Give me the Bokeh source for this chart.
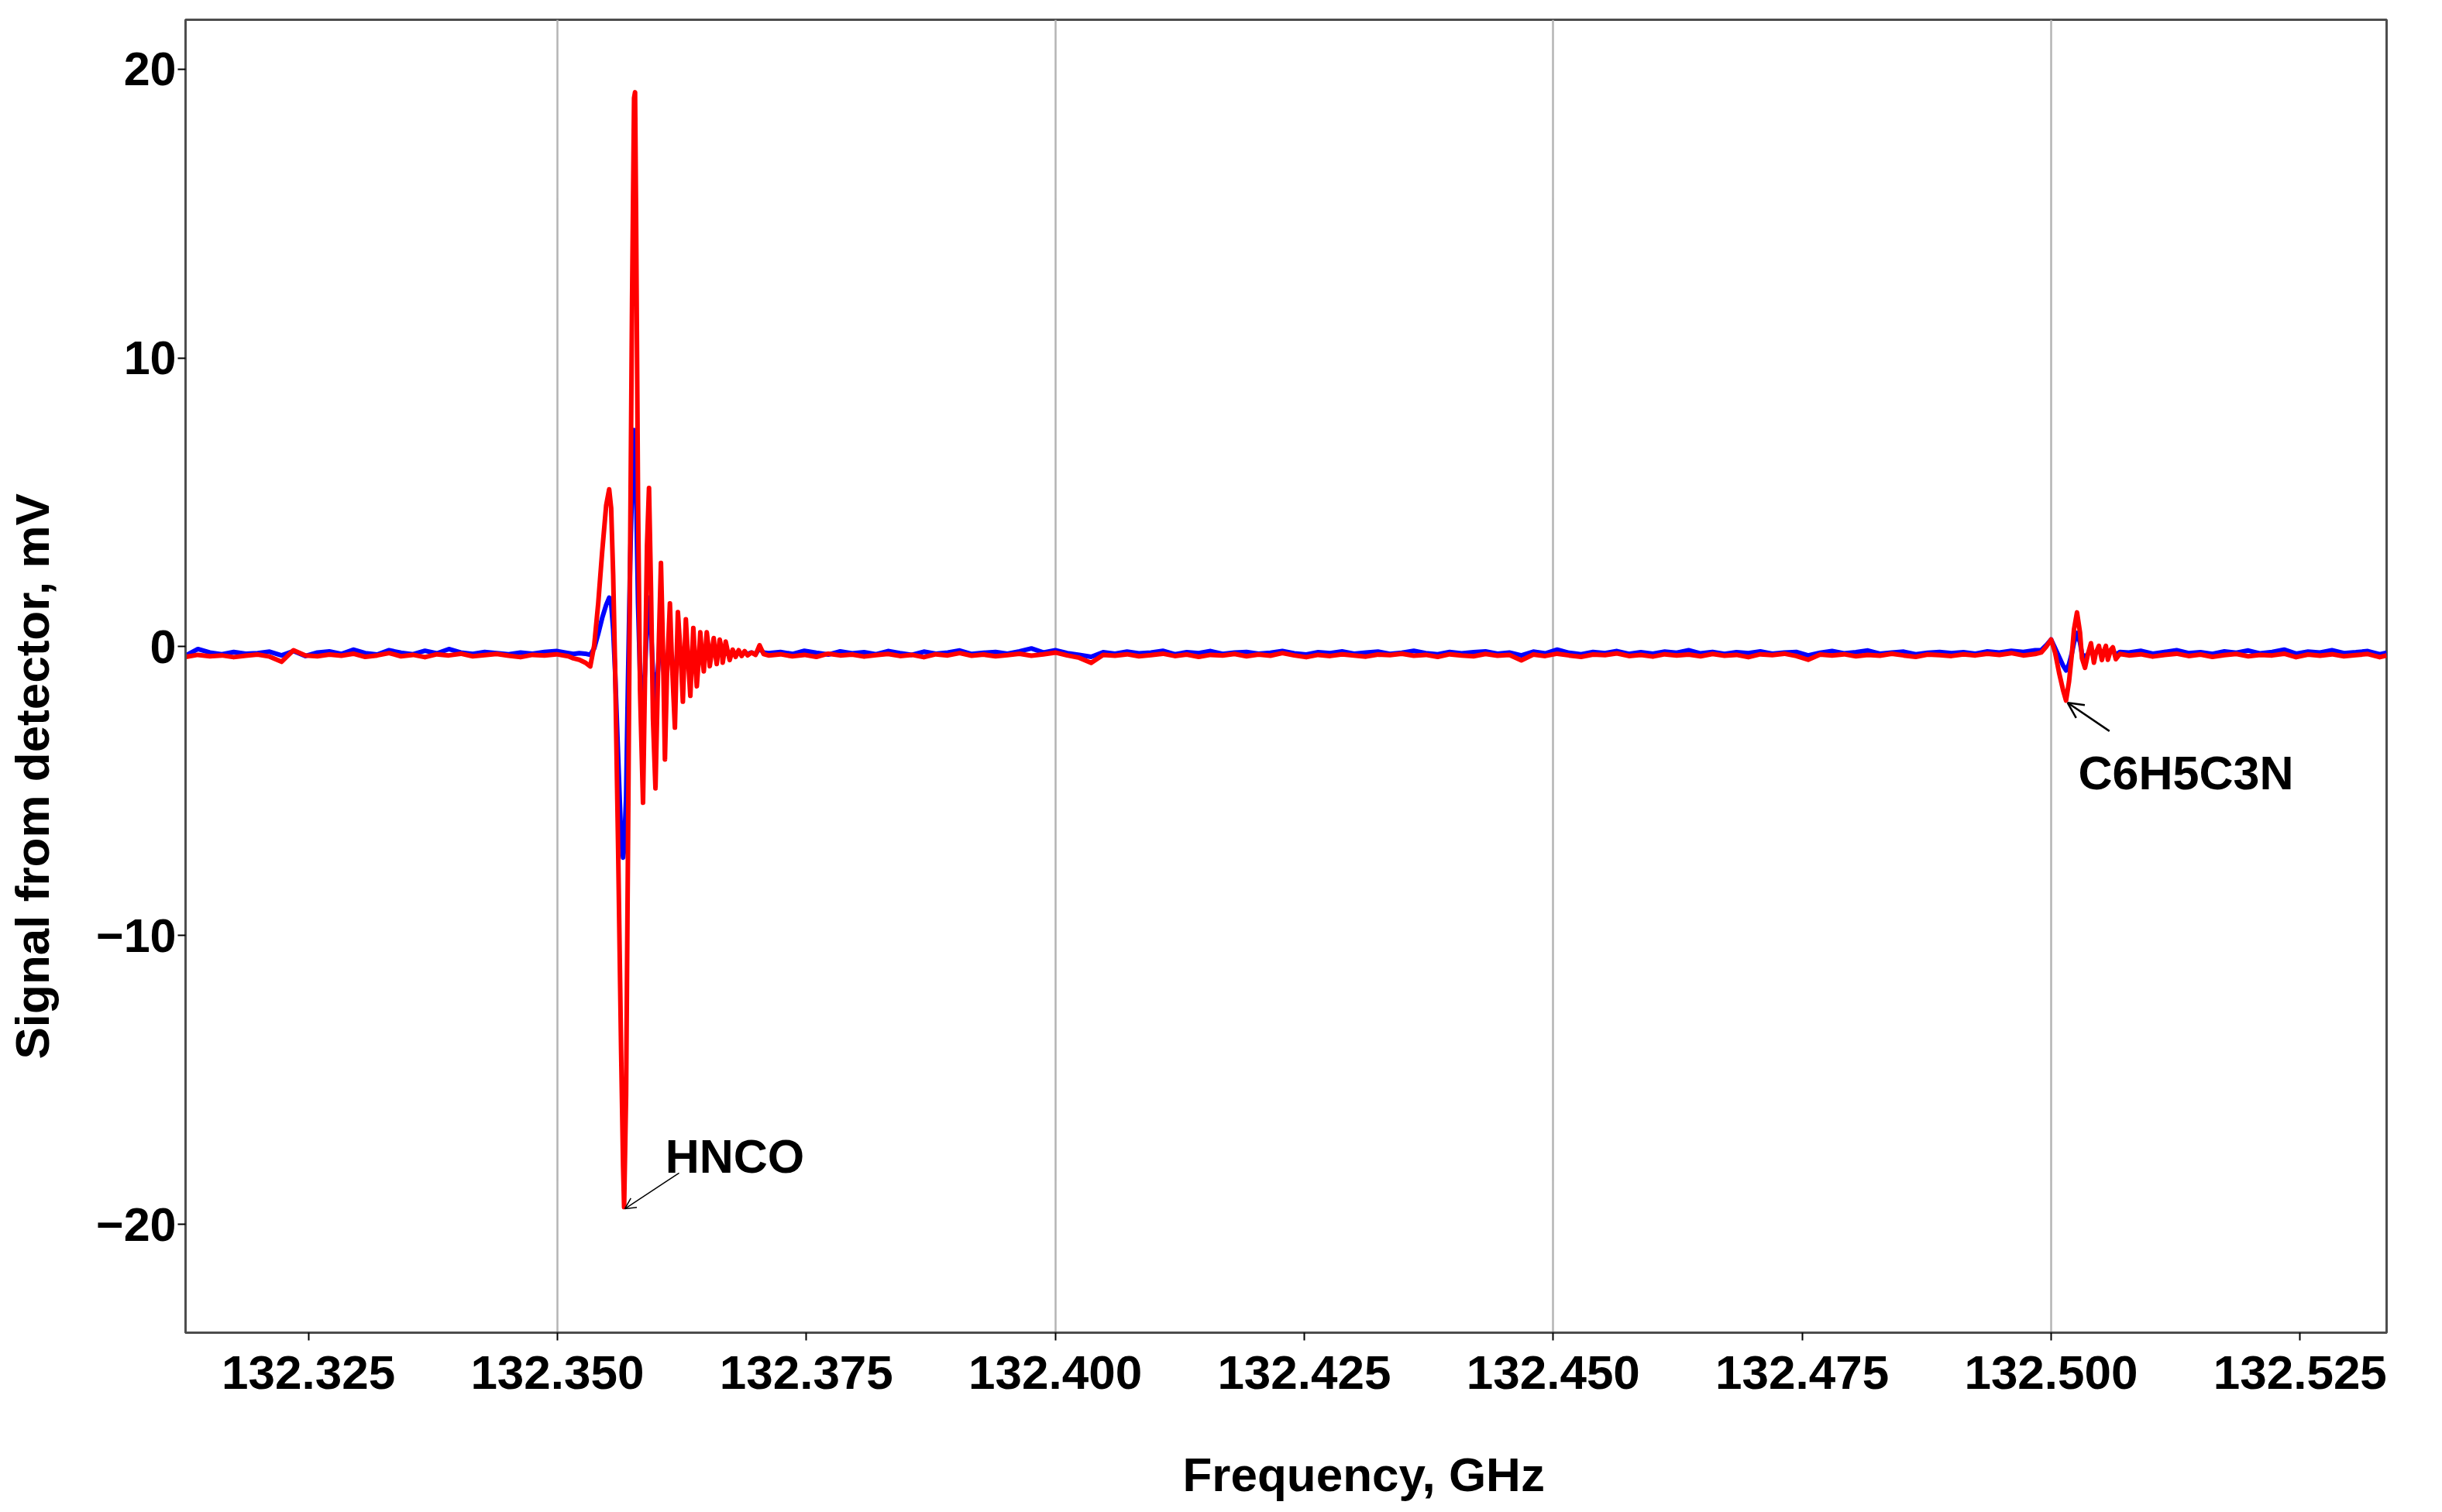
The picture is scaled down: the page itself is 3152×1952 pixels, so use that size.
from bokeh.plotting import figure
from bokeh.models import (FixedTicker, CustomJSTickFormatter, Label, Arrow,
                          OpenHead, Range1d, Title)
from bokeh.embed import file_html
from bokeh.resources import INLINE

FONT = "Liberation Sans"

# ---------------- axes ----------------
x_ticks = [132.325, 132.350, 132.375, 132.400, 132.425, 132.450, 132.475, 132.500, 132.525]
x_grid = [132.350, 132.400, 132.450, 132.500]
y_ticks = [-20, -10, 0, 10, 20]
x_title = "Frequency, GHz"
y_title = "Signal from detector, mV"

# ---------------- data: baseline before HNCO ----------------
freq_base1 = [132.3127, 132.3139, 132.3151, 132.3163, 132.3175, 132.3187, 132.3199, 132.3211,
              132.3223, 132.3235, 132.3247, 132.3259, 132.3271, 132.3283, 132.3295, 132.3307,
              132.3319, 132.3331, 132.3343, 132.3355, 132.3367, 132.3379, 132.3391, 132.3403,
              132.3415, 132.3427, 132.3439, 132.3451, 132.3463, 132.3475, 132.3487, 132.3499,
              132.3511]
red_base1 = [-0.35, -0.28, -0.33, -0.30, -0.36, -0.31, -0.27, -0.34, -0.52, -0.12, -0.30,
             -0.33, -0.27, -0.31, -0.24, -0.35, -0.30, -0.22, -0.33, -0.28, -0.36, -0.26,
             -0.30, -0.24, -0.33, -0.29, -0.25, -0.31, -0.36, -0.28, -0.30, -0.26, -0.33]
blue_base1 = [-0.30, -0.08, -0.20, -0.26, -0.18, -0.24, -0.22, -0.17, -0.30, -0.15, -0.32,
              -0.20, -0.16, -0.25, -0.10, -0.22, -0.27, -0.12, -0.21, -0.26, -0.14, -0.23,
              -0.08, -0.20, -0.25, -0.18, -0.22, -0.26, -0.20, -0.24, -0.18, -0.15, -0.22]

# ---------------- data: HNCO line ----------------
freq_hnco = [132.3516, 132.3522, 132.3528, 132.3533, 132.3537, 132.3541, 132.3545, 132.3549,
             132.3552, 132.3554, 132.3556, 132.3558, 132.3561, 132.3564, 132.3566, 132.3567,
             132.3569, 132.3571, 132.3573, 132.3575, 132.3577, 132.3578, 132.3579, 132.3581,
             132.3583, 132.3586, 132.3588, 132.3590, 132.3592, 132.3594, 132.3596, 132.35985,
             132.3601, 132.3604, 132.3606, 132.3608, 132.3610, 132.3613, 132.3615, 132.3618,
             132.36195, 132.3621, 132.3624, 132.3626, 132.36275, 132.3629, 132.3631, 132.36335,
             132.3635, 132.36365, 132.3638, 132.3640, 132.3642, 132.36435, 132.3645, 132.3647,
             132.36485, 132.3650, 132.3652, 132.3653, 132.3655, 132.3657, 132.3658, 132.3660,
             132.36615, 132.3663, 132.3665, 132.3666, 132.3668, 132.3669, 132.3671, 132.3673,
             132.3676, 132.3679, 132.3682, 132.3685, 132.3688, 132.3691, 132.3695, 132.3699,
             132.3703, 132.3707]
red_hnco = [-0.40, -0.45, -0.55, -0.68, 0.05, 1.5, 3.3, 4.9,
            5.45, 4.8, 2.5, -0.8, -7.0, -14.0, -18.0, -19.4,
            -15.5, -6.5, 3.0, 12.0, 19.0, 19.2, 15.0, 5.0,
            -1.5, -5.4, -1.0, 3.5, 5.5, 2.0, -2.5, -4.9,
            -1.0, 2.9, 0.0, -3.9, -1.0, 1.5, -0.5, -2.8,
            -0.8, 1.2, -0.4, -1.9, -0.4, 0.95, -0.3, -1.7,
            -0.5, 0.65, -0.3, -1.37, -0.4, 0.5, -0.2, -0.85,
            -0.2, 0.5, -0.1, -0.67, -0.2, 0.3, -0.1, -0.6,
            -0.15, 0.25, -0.1, -0.55, -0.1, 0.18, -0.15, -0.46,
            -0.10, -0.35, -0.12, -0.32, -0.15, -0.30, -0.20, -0.28,
            0.05, -0.25]
blue_hnco = [-0.25, -0.22, -0.24, -0.28, -0.05, 0.45, 1.0, 1.45,
             1.7, 1.5, 0.6, -0.9, -3.8, -6.6, -7.3, -7.0,
             -5.2, -1.0, 2.8, 5.6, 7.5, 7.2, 5.5, 1.5,
             -1.0, -2.1, -0.8, 0.8, 1.7, 0.6, -0.9, -1.9,
             -0.8, 0.6, -0.3, -1.7, -0.7, 0.2, -0.5, -1.2,
             -0.6, 0.1, -0.4, -0.9, -0.4, 0.0, -0.4, -0.8,
             -0.4, -0.05, -0.3, -0.65, -0.3, -0.05, -0.3, -0.5,
             -0.25, -0.10, -0.25, -0.40, -0.20, -0.10, -0.20, -0.35,
             -0.20, -0.15, -0.25, -0.30, -0.20, -0.15, -0.25, -0.30,
             -0.15, -0.25, -0.20, -0.28, -0.20, -0.25, -0.20, -0.26,
             -0.05, -0.20]

# ---------------- data: baseline between the lines ----------------
freq_base2 = [132.3712, 132.3724, 132.3736, 132.3748, 132.3760, 132.3772, 132.3784, 132.3796, 132.3808, 132.3820,
              132.3832, 132.3844, 132.3856, 132.3868, 132.3880, 132.3892, 132.3904, 132.3916, 132.3928, 132.3940,
              132.3952, 132.3964, 132.3976, 132.3988, 132.4000, 132.4012, 132.4024, 132.4036, 132.4048, 132.4060,
              132.4072, 132.4084, 132.4096, 132.4108, 132.4120, 132.4132, 132.4144, 132.4156, 132.4168, 132.4180,
              132.4192, 132.4204, 132.4216, 132.4228, 132.4240, 132.4252, 132.4264, 132.4276, 132.4288, 132.4300,
              132.4312, 132.4324, 132.4336, 132.4348, 132.4360, 132.4372, 132.4384, 132.4396, 132.4408, 132.4420,
              132.4432, 132.4444, 132.4456, 132.4468, 132.4480, 132.4492, 132.4504, 132.4516, 132.4528, 132.4540,
              132.4552, 132.4564, 132.4576, 132.4588, 132.4600, 132.4612, 132.4624, 132.4636, 132.4648, 132.4660,
              132.4672, 132.4684, 132.4696, 132.4708, 132.4720, 132.4732, 132.4744, 132.4756, 132.4768, 132.4780,
              132.4792, 132.4804, 132.4816, 132.4828, 132.4840, 132.4852, 132.4864, 132.4876, 132.4888, 132.4900,
              132.4912, 132.4924, 132.4936, 132.4948, 132.4960, 132.4972, 132.4984]
red_base2 = [-0.30, -0.26, -0.33, -0.28, -0.35, -0.24, -0.30, -0.27, -0.34, -0.29,
             -0.25, -0.32, -0.28, -0.36, -0.26, -0.30, -0.22, -0.31, -0.27, -0.33,
             -0.29, -0.24, -0.31, -0.26, -0.20, -0.30, -0.38, -0.56, -0.28, -0.31,
             -0.26, -0.33, -0.29, -0.24, -0.32, -0.27, -0.35, -0.28, -0.30, -0.25,
             -0.33, -0.27, -0.31, -0.22, -0.30, -0.36, -0.28, -0.32, -0.26, -0.30,
             -0.34, -0.27, -0.29, -0.24, -0.31, -0.28, -0.35, -0.26, -0.30, -0.33,
             -0.25, -0.31, -0.28, -0.47, -0.27, -0.32, -0.24, -0.30, -0.35, -0.27,
             -0.29, -0.23, -0.32, -0.28, -0.34, -0.26, -0.30, -0.27, -0.33, -0.25,
             -0.31, -0.28, -0.36, -0.26, -0.29, -0.24, -0.32, -0.45, -0.27, -0.30,
             -0.26, -0.33, -0.28, -0.31, -0.24, -0.30, -0.35, -0.27, -0.29, -0.32,
             -0.26, -0.30, -0.24, -0.28, -0.22, -0.30, -0.25]
blue_base2 = [-0.22, -0.18, -0.25, -0.14, -0.21, -0.27, -0.16, -0.23, -0.19, -0.26,
              -0.15, -0.22, -0.28, -0.17, -0.24, -0.20, -0.13, -0.25, -0.21, -0.18,
              -0.24, -0.16, -0.06, -0.20, -0.12, -0.22, -0.28, -0.35, -0.19, -0.24,
              -0.17, -0.23, -0.20, -0.14, -0.26, -0.19, -0.22, -0.15, -0.25, -0.20,
              -0.18, -0.24, -0.21, -0.15, -0.23, -0.27, -0.19, -0.22, -0.16, -0.24,
              -0.20, -0.17, -0.25, -0.21, -0.14, -0.22, -0.26, -0.18, -0.23, -0.19,
              -0.16, -0.24, -0.20, -0.30, -0.17, -0.23, -0.10, -0.21, -0.26, -0.18,
              -0.22, -0.15, -0.25, -0.19, -0.24, -0.17, -0.21, -0.12, -0.23, -0.18,
              -0.25, -0.19, -0.22, -0.16, -0.24, -0.20, -0.18, -0.30, -0.21, -0.15,
              -0.23, -0.19, -0.13, -0.24, -0.20, -0.17, -0.26, -0.21, -0.18, -0.22,
              -0.19, -0.24, -0.16, -0.20, -0.14, -0.18, -0.12]

# ---------------- data: C6H5C3N line ----------------
freq_c6 = [132.4990, 132.4995, 132.5000, 132.5004, 132.5008, 132.5012, 132.5015, 132.5018,
           132.5021, 132.5023, 132.5026, 132.5029, 132.5031, 132.5034, 132.5037, 132.5040,
           132.5043, 132.5045, 132.5048, 132.5051, 132.5053, 132.5055, 132.5057, 132.5060,
           132.5062, 132.5065, 132.5069]
red_c6 = [-0.20, 0.00, 0.25, -0.20, -0.90, -1.50, -1.86, -1.20,
          -0.20, 0.60, 1.19, 0.50, -0.40, -0.73, -0.25, 0.12,
          -0.55, -0.20, 0.03, -0.46, -0.15, 0.03, -0.45, -0.10,
          -0.02, -0.43, -0.25]
blue_c6 = [-0.12, 0.05, 0.25, -0.05, -0.35, -0.65, -0.82, -0.60,
           -0.20, 0.15, 0.48, 0.15, -0.25, -0.35, -0.25, -0.10,
           -0.30, -0.20, -0.12, -0.28, -0.18, -0.10, -0.25, -0.15,
           -0.12, -0.28, -0.18]

# ---------------- data: baseline after C6H5C3N ----------------
freq_base3 = [132.5078, 132.5090, 132.5102, 132.5114, 132.5126, 132.5138, 132.5150, 132.5162,
              132.5174, 132.5186, 132.5198, 132.5210, 132.5222, 132.5234, 132.5246, 132.5258,
              132.5270, 132.5282, 132.5294, 132.5306, 132.5318, 132.5330, 132.5337]
red_base3 = [-0.30, -0.26, -0.34, -0.28, -0.24, -0.32, -0.27, -0.35, -0.29, -0.25, -0.33, -0.28,
             -0.30, -0.24, -0.36, -0.27, -0.31, -0.26, -0.33, -0.29, -0.25, -0.36, -0.30]
blue_base3 = [-0.20, -0.14, -0.24, -0.18, -0.12, -0.22, -0.19, -0.25, -0.16, -0.21, -0.13, -0.23,
              -0.18, -0.10, -0.24, -0.17, -0.20, -0.12, -0.22, -0.19, -0.15, -0.26, -0.21]

freq = freq_base1 + freq_hnco + freq_base2 + freq_c6 + freq_base3
red = red_base1 + red_hnco + red_base2 + red_c6 + red_base3
blue = blue_base1 + blue_hnco + blue_base2 + blue_c6 + blue_base3

# ---------------- figure ----------------
p = figure(width=3144, height=1944, output_backend="svg", toolbar_location=None,
           x_range=Range1d(132.31266, 132.53369), y_range=Range1d(-23.75, 21.71),
           min_border_left=239, min_border_right=64, min_border_top=25, min_border_bottom=224)
p.background_fill_color = "white"
p.border_fill_color = "white"
p.outline_line_color = "#4d4d4d"
p.outline_line_width = 3

p.line(freq, blue, line_color="#0000FF", line_width=6, line_join="round")
p.line(freq, red, line_color="#FF0000", line_width=6, line_join="round")

for ax in (p.xaxis[0], p.yaxis[0]):
    ax.axis_line_color = "#4d4d4d"
    ax.axis_line_width = 3
    ax.major_tick_line_color = "black"
    ax.major_tick_line_width = 2
    ax.major_tick_out = 10
    ax.major_tick_in = 0
    ax.minor_tick_line_color = None
    ax.major_label_text_font = FONT
    ax.major_label_text_font_style = "bold"
    ax.major_label_text_color = "black"
    # empty spacer label: only pushes the side title outward
    ax.axis_label = " "
    ax.axis_label_text_font_size = "1px"
    ax.axis_label_text_color = "white"

p.xaxis.ticker = FixedTicker(ticks=x_ticks)
p.xaxis.formatter = CustomJSTickFormatter(code="return tick.toFixed(3);")
p.xaxis.major_label_text_font_size = "62px"
p.xaxis.major_label_standoff = 20
p.xaxis.axis_label_standoff = 67

p.yaxis.ticker = FixedTicker(ticks=y_ticks)
p.yaxis.formatter = CustomJSTickFormatter(
    code="return tick < 0 ? '\u2212' + Math.abs(tick).toFixed(0) : tick.toFixed(0);")
p.yaxis.major_label_text_font_size = "61px"
p.yaxis.major_label_standoff = 2
p.yaxis.axis_label_standoff = 41

p.xgrid.ticker = FixedTicker(ticks=x_grid)
p.xgrid.grid_line_color = "#b4b4b4"
p.xgrid.grid_line_width = 2.5
p.ygrid.grid_line_color = None

# axis titles as side titles (offset along the axis like the original)
p.add_layout(Title(text=x_title, align="left", offset=1287, standoff=0,
                   text_font=FONT, text_font_style="bold", text_font_size="62px",
                   text_color="black"), "below")
p.add_layout(Title(text=y_title, align="left", offset=353, standoff=0,
                   text_font=FONT, text_font_style="bold", text_font_size="62px",
                   text_color="black"), "left")

# annotations
p.add_layout(Label(x=132.36083, y=-17.66, text="HNCO", text_font=FONT, text_font_style="bold",
                   text_font_size="61px", text_align="left", text_baseline="alphabetic",
                   text_color="black"))
p.add_layout(Arrow(end=OpenHead(size=14, line_width=1.5, line_color="black"),
                   x_start=132.36222, y_start=-18.22, x_end=132.35677, y_end=-19.46,
                   line_width=1.5, line_color="black"))
p.add_layout(Label(x=132.50273, y=-4.36, text="C6H5C3N", text_font=FONT, text_font_style="bold",
                   text_font_size="61px", text_align="left", text_baseline="alphabetic",
                   text_color="black"))
p.add_layout(Arrow(end=OpenHead(size=20, line_width=2.5, line_color="black"),
                   x_start=132.50586, y_start=-2.92, x_end=132.50166, y_end=-1.94,
                   line_width=2.5, line_color="black"))

open("out.html", "w").write(file_html(p, INLINE))
